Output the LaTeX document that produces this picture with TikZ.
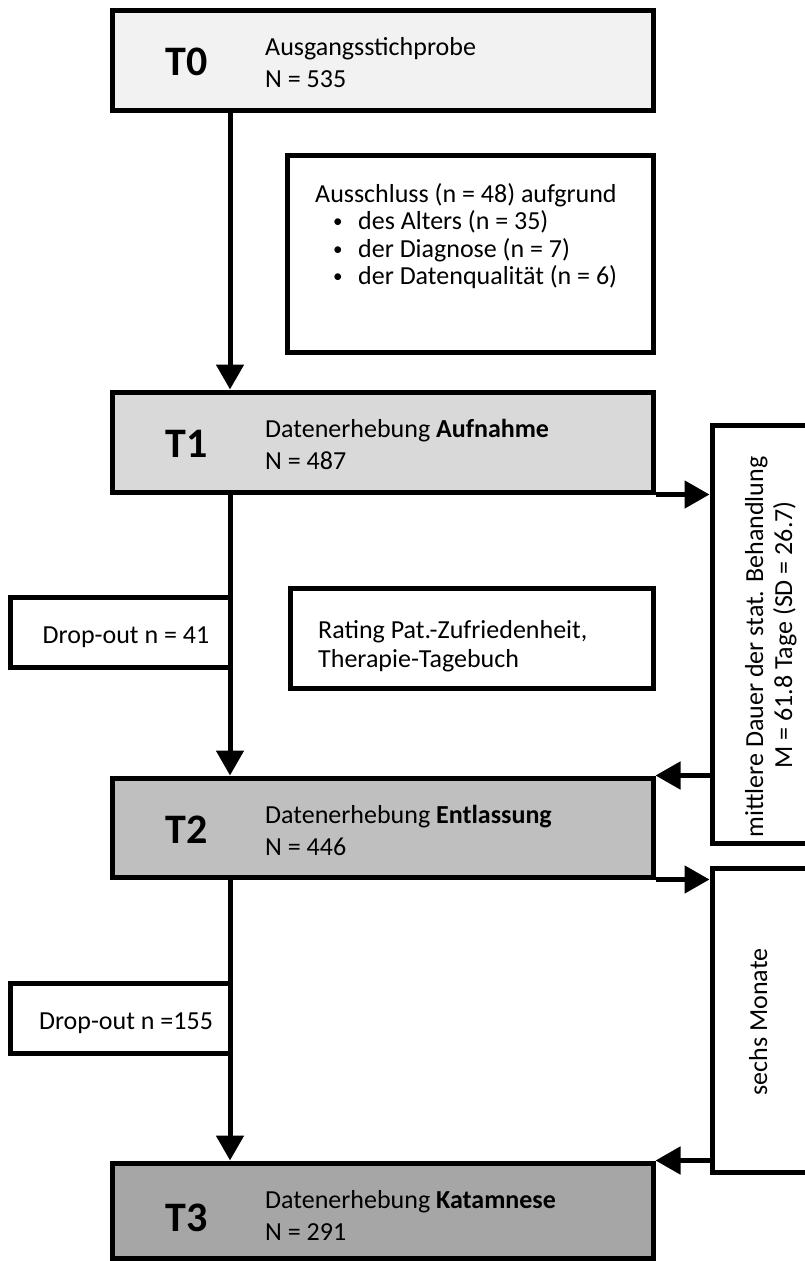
\documentclass[tikz,border=0pt]{standalone}
\usepackage{fontspec}
\setmainfont{Carlito}
\usetikzlibrary{arrows.meta}
\definecolor{c0}{HTML}{F2F2F2}
\definecolor{c1}{HTML}{D9D9D9}
\definecolor{c2}{HTML}{BFBFBF}
\definecolor{c3}{HTML}{A6A6A6}
\begin{document}
\begin{tikzpicture}[x=1pt,y=-1pt,
  box/.style={draw, line width=5pt, inner sep=0pt},
  txt/.style={inner sep=0pt, anchor=base west, font=\fontsize{26}{32}\selectfont},
  bul/.style={inner sep=0pt, anchor=base west, font=\fontsize{19}{24}\selectfont},
  ctxt/.style={inner sep=0pt, anchor=base, font=\fontsize{26}{32}\selectfont},
  rtxt/.style={inner sep=0pt, anchor=base, rotate=90, font=\fontsize{26}{32}\selectfont},
  tlab/.style={inner sep=0pt, font=\fontsize{42}{50}\selectfont\bfseries},
  arr/.style={line width=5pt, -{Triangle[length=25pt,width=27pt]}}]
\useasboundingbox (0,0) rectangle (805,1261);
\clip (0,0) rectangle (805,1261);

% main time-point boxes
\node[box, fill=c0, minimum width=541pt, minimum height=100pt] (t0) at (382.5,60) {};
\node[tlab] (t0lab) at (187,62) {T0};
\node[txt] (t0a) at (265,55) {Ausgangsstichprobe};
\node[txt] (t0b) at (265,87) {N = 535};

\node[box, fill=c1, minimum width=541pt, minimum height=100pt] (t1) at (382.5,442) {};
\node[tlab] (t1lab) at (187,444) {T1};
\node[txt] (t1a) at (265,437) {Datenerhebung \textbf{Aufnahme}};
\node[txt] (t1b) at (265,469) {N = 487};

\node[box, fill=c2, minimum width=541pt, minimum height=99pt] (t2) at (382.5,827.5) {};
\node[tlab] (t2lab) at (187,830) {T2};
\node[txt] (t2a) at (265,823) {Datenerhebung \textbf{Entlassung}};
\node[txt] (t2b) at (265,855) {N = 446};

\node[box, fill=c3, minimum width=541pt, minimum height=95pt] (t3) at (382.5,1210.5) {};
\node[tlab] (t3lab) at (187,1218) {T3};
\node[txt] (t3a) at (265,1208) {Datenerhebung \textbf{Katamnese}};
\node[txt] (t3b) at (265,1240) {N = 291};

% exclusion box
\node[box, minimum width=366pt, minimum height=197pt] (ex) at (470,253.5) {};
\node[txt] (ex0) at (315,202) {Ausschluss (n = 48) aufgrund};
\node[bul] (exb1) at (333,227.5) {•};
\node[txt] (ex1) at (358,229.5) {des Alters (n = 35)};
\node[bul] (exb2) at (333,255) {•};
\node[txt] (ex2) at (358,257) {der Diagnose (n = 7)};
\node[bul] (exb3) at (333,282.5) {•};
\node[txt] (ex3) at (358,284.5) {der Datenqualität (n = 6)};

% rating box
\node[box, minimum width=363pt, minimum height=100pt] (rate) at (471.5,638) {};
\node[txt] (rate1) at (318,638) {Rating Pat.-Zufriedenheit,};
\node[txt] (rate2) at (318,667) {Therapie-Tagebuch};

% drop-out boxes
\node[box, minimum width=220pt, minimum height=70pt] (do1) at (120,632) {};
\node[ctxt] (do1t) at (126,643) {Drop-out n = 41};
\node[box, minimum width=220pt, minimum height=70pt] (do2) at (120,1018) {};
\node[ctxt] (do2t) at (126,1029) {Drop-out n =155};

% right-hand duration boxes
\node[box, minimum width=120pt, minimum height=418pt] (dur) at (772,634) {};
\node[rtxt] (dur1) at (763,647) {mittlere Dauer der stat. Behandlung};
\node[rtxt] (dur2) at (792,635) {M = 61.8 Tage (SD = 26.7)};
\node[box, minimum width=120pt, minimum height=304pt] (mon) at (772,1020) {};
\node[rtxt] (mon1) at (767,1022) {sechs Monate};

% connectors
\coordinate (lx) at (230,0);
\draw[arr] (lx |- t0.south) -- (lx |- t1.north);
\draw[arr] (lx |- t1.south) -- (lx |- t2.north);
\draw[arr] (lx |- t2.south) -- (lx |- t3.north);
\draw[arr] (t1.south east) -- (dur.west |- t1.south east);
\draw[arr] (dur.west |- t2.north east) -- (t2.north east);
\draw[arr] (t2.south east) -- (mon.west |- t2.south east);
\draw[arr] (mon.west |- t3.north east) -- (t3.north east);
\end{tikzpicture}
\end{document}
